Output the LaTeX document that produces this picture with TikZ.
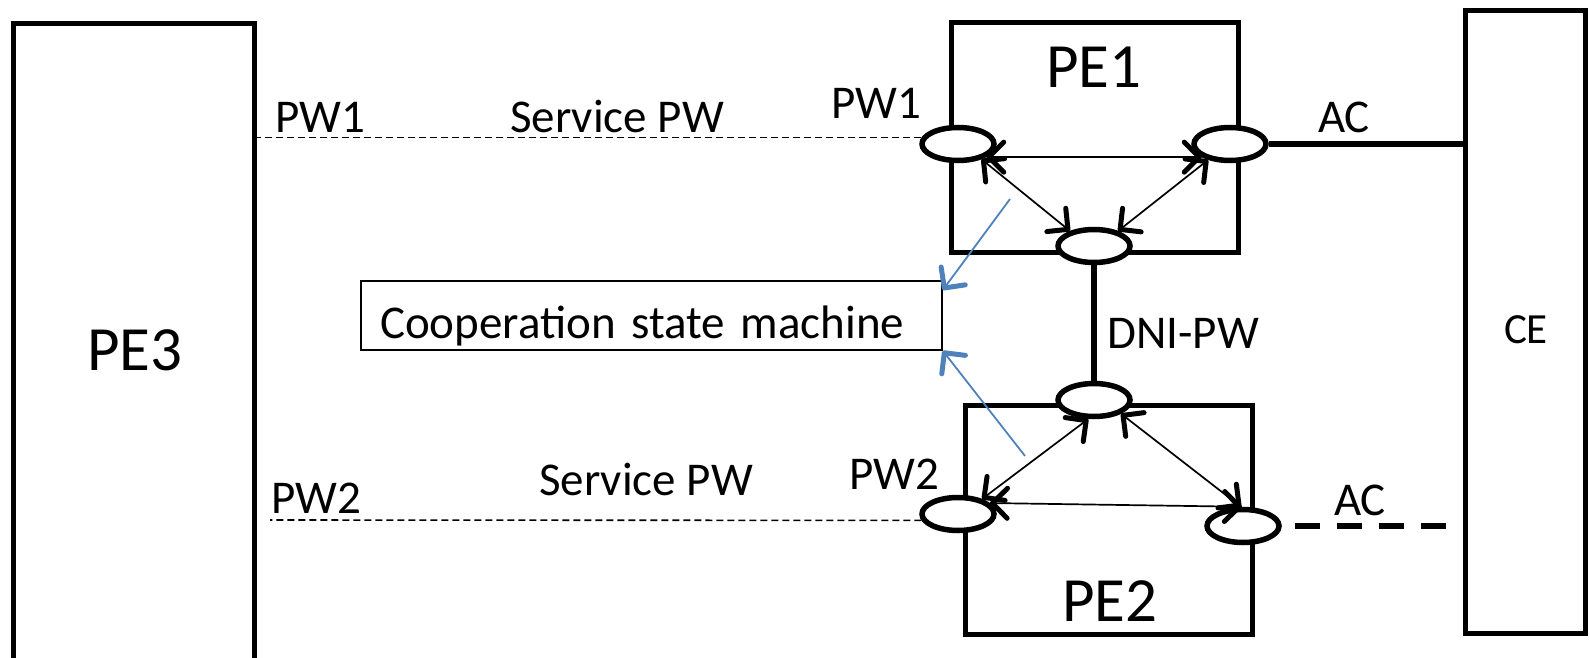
\documentclass[tikz,border=0pt]{standalone}
\usepackage{fontspec}
\setmainfont{Carlito}
\usetikzlibrary{arrows.meta, shapes.geometric}

\definecolor{sigblue}{RGB}{79,129,189}

\begin{document}
\begin{tikzpicture}[x=1pt, y=-1pt,
    barb/.tip={Straight Barb[length=15pt, width=30pt, line width=5pt, round]},
    box/.style={draw, line width=5pt, inner sep=0pt},
    port/.style={ellipse, draw, fill=white, line width=5.5pt, inner sep=0pt,
        minimum width=72pt, minimum height=33pt},
    txt/.style={font=\fontsize{47}{56}\selectfont, anchor=base, inner sep=0pt},
    big/.style={txt, font=\fontsize{63}{76}\selectfont},
    pw/.style={line width=1.6pt, dash pattern=on 7pt off 4pt},
    dual/.style={line width=1.7pt, barb-barb},
    sig/.style={draw=sigblue, line width=1.8pt, -barb}]
    \useasboundingbox (0,0) rectangle (1590,658);

    \node[box, minimum width=241pt, minimum height=636pt] (pe3) at (134,342) {};
    \node[box, minimum width=287pt, minimum height=229pt] (pe1) at (1094.5,137.5) {};
    \node[box, minimum width=287pt, minimum height=229pt] (pe2) at (1109,520) {};
    \node[box, minimum width=120pt, minimum height=622pt] (ce) at (1525,322) {};
    \node[draw, line width=1.6pt, minimum height=69pt, text width=543pt,
        inner xsep=19pt, inner ysep=0pt, align=left, text height=45pt, text depth=0pt,
        font=\fontsize{47}{56}\selectfont] (csm) at (651.5,315.5) {Cooperation state machine};

    \node[port] (pa) at (958,144) {};
    \node[port] (pb) at (1230,144) {};
    \node[port] (pc) at (1094,246) {};
    \node[port] (qc) at (1094,400) {};
    \node[port] (qa) at (958,514) {};
    \node[port] (qb) at (1243,526) {};
    \coordinate (qw) at (270,520);
    \coordinate (sa) at (1010,199);
    \coordinate (sb) at (1025,456);

    \draw[pw] (pa.170) -- (pa.170 -| pe3.east);
    \draw[pw] (qa.190) -- (qw);
    \draw[line width=5.5pt] (pb.east) -- (pb.east -| ce.west);
    \draw[line width=5.5pt, dash pattern=on 25pt off 17pt, shorten <=17pt]
        (qb.east -| ce.west) -- (qb.east);
    \draw[line width=5.5pt] (pc.south) -- (qc.north);

    \draw[dual] (pa.-25) -- (pb.-155);
    \draw[dual] (pa.-33) -- (pc.148);
    \draw[dual] (pc.32) -- (pb.-144);
    \draw[dual] (qc.-107) -- (qa.32);
    \draw[dual] (qc.-27) -- (qb.96);
    \draw[dual] (qa.19) -- (qb.93);

    \draw[sig] (sa) -- (csm.5);
    \draw[sig] (sb) -- (csm.south east);

    \node[txt] (wa) at (320,132) {PW1};
    \node[txt] (va) at (617,132) {Service PW};
    \node[txt] (wb) at (876,119) {PW1};
    \node[txt] (aca) at (1344,132) {AC};
    \node[txt] (dni) at (1183,348) {DNI-PW};
    \node[txt] (wc) at (316,513) {PW2};
    \node[txt] (vb) at (646,495) {Service PW};
    \node[txt] (wd) at (894,489) {PW2};
    \node[txt] (acb) at (1360,515) {AC};
    \node[big] (n3) at (135,370) {PE3};
    \node[big] (n1) at (1094,88) {PE1};
    \node[big] (n2) at (1110,621) {PE2};
    \node[txt, font=\fontsize{43}{52}\selectfont] (nc) at (1526,343) {CE};
\end{tikzpicture}
\end{document}
